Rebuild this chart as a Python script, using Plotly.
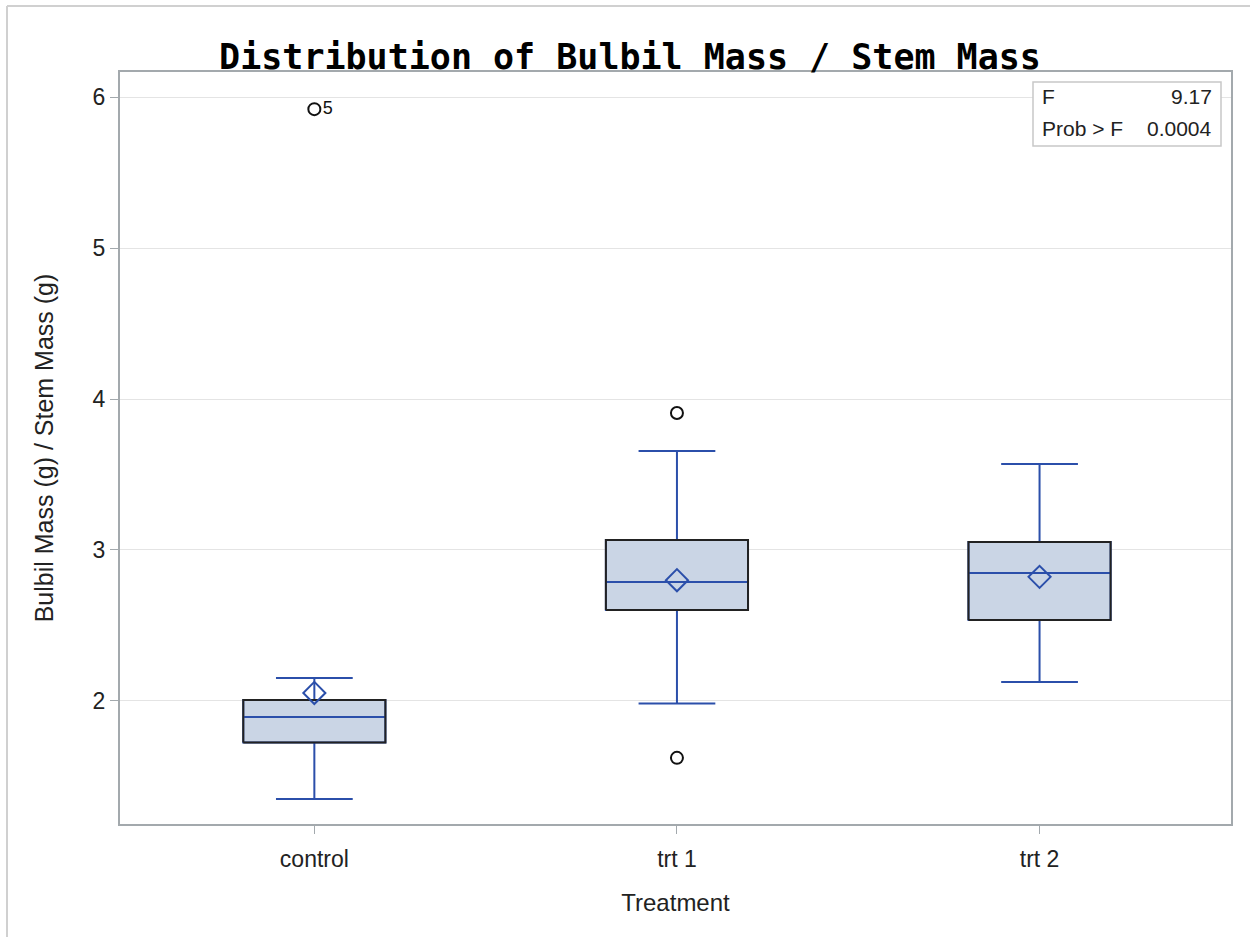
import plotly.graph_objects as go

# ---- data ----
categories = ["control", "trt 1", "trt 2"]
q1 = [1.725, 2.603, 2.536]
median = [1.894, 2.788, 2.848]
q3 = [2.007, 3.066, 3.053]
lower_whisker = [1.351, 1.983, 2.125]
upper_whisker = [2.152, 3.656, 3.570]
means = [2.053, 2.800, 2.822]
outlier_group = [0, 1, 1]
outlier_values = [5.92, 3.907, 1.623]
outlier_labels = ["5", "", ""]
y_ticks = [2, 3, 4, 5, 6]
stats_labels = ["F", "Prob > F"]
stats_values = ["9.17", "0.0004"]

BLUE = "#2B4FAA"
FILL = "#CAD5E5"
AXIS = "#A3A9AD"
FONT = "Liberation Sans"
box_w = 0.392

xs = list(range(len(categories)))
fig = go.Figure()

fig.add_trace(go.Box(
    x=xs, q1=q1, median=median, q3=q3,
    lowerfence=lower_whisker, upperfence=upper_whisker,
    width=box_w, whiskerwidth=0.54, boxpoints=False,
    fillcolor=FILL, line=dict(color=BLUE, width=2),
    showlegend=False, hoverinfo="skip",
))

# black box outline
for i in xs:
    hw = box_w / 2
    fig.add_trace(go.Scatter(
        x=[i - hw, i + hw, i + hw, i - hw, i - hw],
        y=[q1[i], q1[i], q3[i], q3[i], q1[i]],
        mode="lines", line=dict(color="#222222", width=2),
        showlegend=False, hoverinfo="skip",
    ))
    # median redrawn on top in blue
    fig.add_trace(go.Scatter(
        x=[i - hw + 0.004, i + hw - 0.004], y=[median[i], median[i]],
        mode="lines", line=dict(color=BLUE, width=2),
        showlegend=False, hoverinfo="skip",
    ))

# means
fig.add_trace(go.Scatter(
    x=xs, y=means, mode="markers",
    marker=dict(symbol="diamond-open", size=17, color=BLUE, line=dict(color=BLUE, width=2)),
    showlegend=False, hoverinfo="skip",
))

# outliers
fig.add_trace(go.Scatter(
    x=outlier_group, y=outlier_values, mode="markers+text",
    text=outlier_labels, textposition="middle right",
    textfont=dict(family=FONT, size=18, color="#111111"),
    marker=dict(symbol="circle-open", size=12, color="#111111", line=dict(color="#111111", width=2)),
    showlegend=False, hoverinfo="skip",
))

fig.update_layout(
    width=1250, height=937,
    margin=dict(l=120, r=19, t=72, b=113),
    paper_bgcolor="white", plot_bgcolor="white",
    title=dict(
        text="<b>Distribution of Bulbil Mass / Stem Mass</b>",
        font=dict(family="DejaVu Sans Mono", size=35, color="black"),
        x=0.504, xanchor="center", y=1 - 57 / 937, yanchor="middle",
    ),
    xaxis=dict(
        range=[-0.536, 2.528], tickvals=xs, ticktext=categories,
        showgrid=False, zeroline=False,
        showline=True, linecolor=AXIS, linewidth=2, mirror=True,
        ticks="outside", ticklen=8, tickcolor=AXIS, tickwidth=1,
        ticklabelstandoff=5,
        tickfont=dict(family=FONT, size=23, color="#222222"),
        title=dict(text="Treatment", font=dict(family=FONT, size=24, color="#222222"), standoff=24),
    ),
    yaxis=dict(
        range=[1.185, 6.166], tickvals=y_ticks,
        showgrid=True, gridcolor="#E4E4E4", gridwidth=1, zeroline=False,
        showline=True, linecolor=AXIS, linewidth=2, mirror=True,
        ticks="outside", ticklen=8, tickcolor=AXIS, tickwidth=1,
        tickfont=dict(family=FONT, size=23, color="#222222"),
        title=dict(text="Bulbil Mass (g) / Stem Mass (g)", font=dict(family=FONT, size=25, color="#222222"), standoff=32),
    ),
    font=dict(family=FONT),
)

# stats inset
pw, ph = 1111.0, 752.0
def px(x):
    return (x - 120) / pw
def py(y):
    return (824 - y) / ph

fig.add_shape(type="rect", xref="paper", yref="paper",
              x0=px(1033), x1=px(1221), y0=py(146), y1=py(82),
              line=dict(color="#C8C8C8", width=1.5), fillcolor="white", layer="above")
for k, (lab, val) in enumerate(zip(stats_labels, stats_values)):
    yy = py(97 + 31 * k)
    fig.add_annotation(xref="paper", yref="paper", x=px(1040), y=yy, text=lab,
                       showarrow=False, xanchor="left", yanchor="middle",
                       font=dict(family=FONT, size=21, color="#222222"))
    fig.add_annotation(xref="paper", yref="paper", x=px(1214), y=yy, text=val,
                       showarrow=False, xanchor="right", yanchor="middle",
                       font=dict(family=FONT, size=21, color="#222222"))

# outer frame (top and left edges)
fig.add_shape(type="line", xref="paper", yref="paper",
              x0=px(7), x1=px(1260), y0=py(6), y1=py(6), line=dict(color="#D0D0D0", width=2))
fig.add_shape(type="line", xref="paper", yref="paper",
              x0=px(7), x1=px(7), y0=py(6), y1=py(960), line=dict(color="#D0D0D0", width=2))

fig.write_html("out.html")
